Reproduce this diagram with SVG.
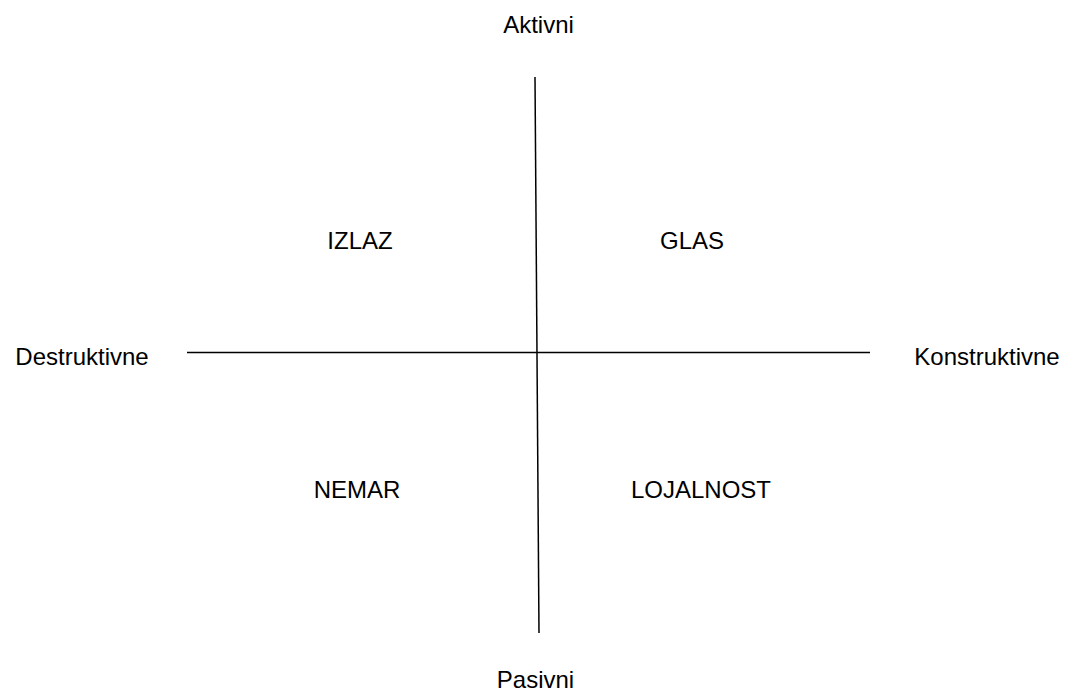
<svg xmlns="http://www.w3.org/2000/svg" width="1066" height="694" viewBox="0 0 1066 694">
  <style>
    text { font-family: "Liberation Sans", Arial, sans-serif; font-size: 24px; fill: #000; text-anchor: middle; }
    .axis { stroke: #000; stroke-width: 1.5; fill: none; }
  </style>
  <rect width="1066" height="694" fill="#fff"/>
  <g id="connectors">
    <line class="axis" x1="535" y1="77" x2="539" y2="633"/>
    <line class="axis" x1="187" y1="352.5" x2="870" y2="352.5"/>
  </g>
  <g id="aktivni"><text x="538.5" y="33">Aktivni</text></g>
  <g id="pasivni"><text x="535.5" y="688">Pasivni</text></g>
  <g id="destruktivne"><text x="82" y="365">Destruktivne</text></g>
  <g id="konstruktivne"><text x="987" y="365">Konstruktivne</text></g>
  <g id="izlaz"><text x="360" y="249">IZLAZ</text></g>
  <g id="glas"><text x="692" y="249">GLAS</text></g>
  <g id="nemar"><text x="357" y="498">NEMAR</text></g>
  <g id="lojalnost"><text x="701" y="498">LOJALNOST</text></g>
</svg>
